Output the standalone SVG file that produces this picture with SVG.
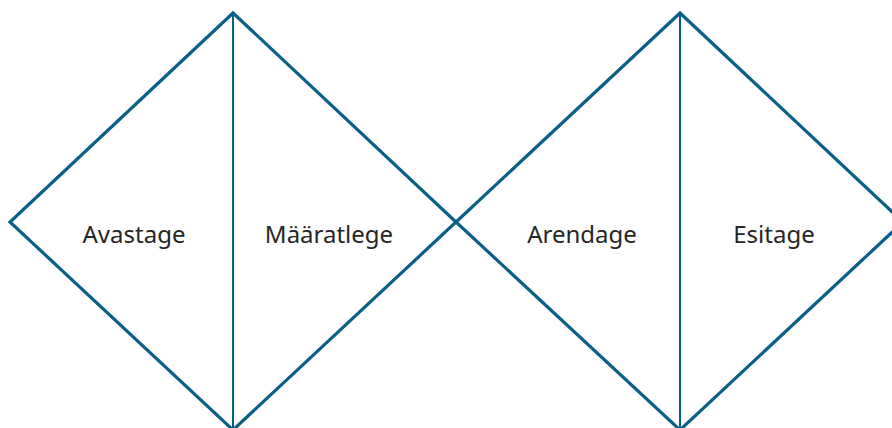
<svg xmlns="http://www.w3.org/2000/svg" width="892" height="428" viewBox="0 0 892 428">
<style>
.d{fill:none;stroke:#0a5f86;stroke-width:3.2;stroke-linejoin:miter}
.v{stroke:#0a5f86;stroke-width:2}
.t{font-family:"Noto Sans","Open Sans",sans-serif;font-size:24px;fill:#262626;text-anchor:middle}
</style>
<rect width="892" height="428" fill="#ffffff"/>
<g id="diamond1">
<polygon class="d" points="233,13 456,222 233,430 10,222"/>
</g>
<g id="diamond2">
<polygon class="d" points="680,13 903,222 680,430 456,222"/>
</g>
<g id="connectors">
<line class="v" x1="233" y1="13" x2="233" y2="430"/>
<line class="v" x1="680" y1="13" x2="680" y2="430"/>
</g>
<g id="n1"><text class="t" x="134" y="243">Avastage</text></g>
<g id="n2"><text class="t" x="329" y="243">Määratlege</text></g>
<g id="n3"><text class="t" x="582" y="243">Arendage</text></g>
<g id="n4"><text class="t" x="774" y="243">Esitage</text></g>
</svg>
